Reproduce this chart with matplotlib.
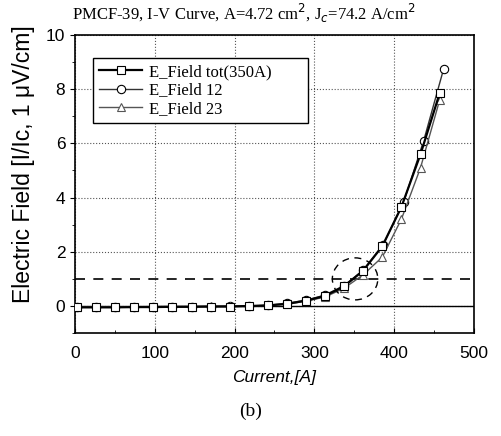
import matplotlib
matplotlib.use("Agg")
import matplotlib.pyplot as plt
from matplotlib.patches import Ellipse
import numpy as np

# currents [A] and electric field [uV/cm]
current = [3, 26, 50, 74, 98, 122, 146, 170, 194, 218, 242, 266, 290, 313,
           337, 361, 385, 409, 433, 457]
current_12 = [3, 26, 50, 74, 98, 122, 146, 170, 194, 218, 242, 266, 290, 313,
              337, 361, 386, 412, 437, 462]
e_tot = [-0.05, -0.05, -0.05, -0.04, -0.04, -0.03, -0.03, -0.02, -0.02, 0.0,
         0.02, 0.08, 0.2, 0.37, 0.72, 1.3, 2.2, 3.65, 5.6, 7.85]
e_12 = [-0.05, -0.05, -0.04, -0.04, -0.04, -0.03, -0.02, -0.02, -0.01, 0.0,
        0.03, 0.1, 0.22, 0.4, 0.75, 1.32, 2.25, 3.85, 6.1, 8.75]
e_23 = [-0.04, -0.03, -0.03, -0.03, -0.02, -0.02, -0.02, -0.01, 0.0, 0.0,
        0.02, 0.07, 0.18, 0.33, 0.65, 1.15, 1.8, 3.2, 5.1, 7.6]

plt.rcParams['font.family'] = ['Liberation Sans', 'DejaVu Sans']

fig = plt.figure(figsize=(5.01, 4.36), dpi=100)
ax = fig.add_axes([0.1497, 0.236, 0.7964, 0.684])

ax.plot(current, e_tot, '-s', color='black', lw=1.6, ms=5.5,
        mfc='white', mec='black', mew=0.8, label='E_Field tot(350A)', zorder=4)
ax.plot(current_12, e_12, '-o', color='#333333', lw=1.0, ms=6,
        mfc='white', mec='black', mew=0.8, label='E_Field 12', zorder=3)
ax.plot(current, e_23, '-^', color='#555555', lw=1.0, ms=6,
        mfc='white', mec='#555555', mew=0.8, label='E_Field 23', zorder=3)

ax.axhline(0, color='black', lw=1.0, zorder=2)
ax.axhline(1, color='black', lw=1.2, ls=(0, (6, 5)), zorder=2)
ax.add_patch(Ellipse((351, 1.0), 57, 1.55, fill=False, ec='black', lw=1.0,
                     ls=(0, (5, 4)), zorder=5))

ax.set_xlim(0, 500)
ax.set_ylim(-1, 10)
ax.set_xticks(np.arange(0, 501, 100))
ax.set_xticks(np.arange(0, 501, 50), minor=True)
ax.set_yticks(np.arange(0, 11, 2))
ax.set_yticks(np.arange(-1, 11, 1), minor=True)
ax.grid(True, which='major', ls=':', color='#555555', lw=0.8)
ax.tick_params(axis='y', which='both', direction='out', labelsize=12.5)
ax.tick_params(axis='x', which='both', direction='in', labelsize=12.5, pad=9)
for s in ax.spines.values():
    s.set_linewidth(1.2)

ax.set_xlabel('Current,[A]', fontsize=12.5, style='italic', labelpad=7)
ax.set_ylabel('Electric Field [I/Ic, 1 \u03bcV/cm]', fontsize=16.5)
ax.yaxis.set_label_coords(-0.1, 0.565)
fig.text(0.144, 0.955,
         'PMCF-39, I-V Curve, A=4.72 cm$^2$, J$_c$=74.2 A/cm$^2$',
         fontsize=12, family='Liberation Serif', ha='left', va='baseline')

leg = ax.legend(loc='upper left', bbox_to_anchor=(0.025, 0.95, 0.58, 0.0),
                mode='expand',
                prop={'family': 'Liberation Serif', 'size': 12},
                fancybox=False, framealpha=1, edgecolor='black',
                handlelength=2.6, borderpad=0.35, labelspacing=0.15,
                handletextpad=0.4)
leg.get_frame().set_linewidth(1.0)

fig.text(0.5, 0.045, '(b)', ha='center', fontsize=14,
         family='Liberation Serif')

fig.savefig('out.png', dpi=100)
